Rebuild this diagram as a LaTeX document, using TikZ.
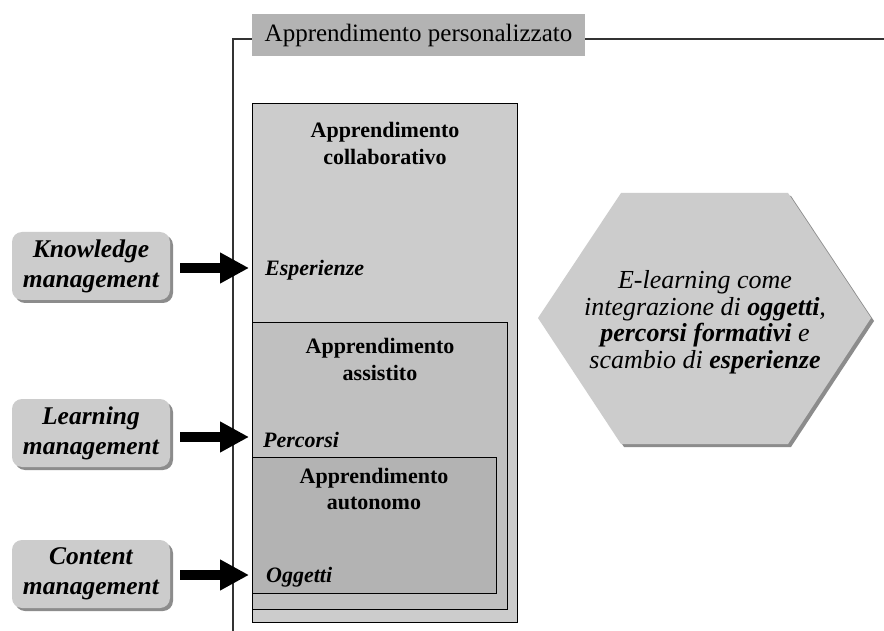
\documentclass[tikz,border=0pt]{standalone}
\usepackage{fontspec}
\setmainfont{Liberation Serif}
\usetikzlibrary{arrows.meta,shadows}
\definecolor{gA}{HTML}{CCCCCC}
\definecolor{gB}{HTML}{C0C0C0}
\definecolor{gC}{HTML}{B3B3B3}
\definecolor{shad}{HTML}{8C8C8C}
\definecolor{linec}{HTML}{333333}
\begin{document}
\begin{tikzpicture}[x=1pt,y=-1pt,
  layerbox/.style={draw=black, line width=1pt, anchor=north west, inner sep=0pt, outer sep=0pt},
  titletext/.style={font=\fontsize{22}{27}\selectfont\bfseries, align=center, inner sep=0pt},
  lbltext/.style={font=\fontsize{22}{25}\selectfont\bfseries\itshape, anchor=west, inner sep=0pt},
  mgmtbox/.style={rounded corners=10pt, fill=gA, minimum width=158pt, minimum height=68pt,
     align=center, inner sep=0pt, font=\fontsize{25.5}{30}\selectfont\bfseries\itshape,
     drop shadow={shadow xshift=3pt, shadow yshift=-3pt, fill=shad, opacity=1}},
  bigarrow/.style={line width=10pt, -{Triangle[length=29pt,width=29pt]}},
  bracket/.style={draw=linec, line width=1.3pt}
]
\useasboundingbox (0,0) rectangle (884,631);
\fill[white] (0,0) rectangle (884,631);

% bracket and top label
\node[fill=gC, minimum width=333pt, minimum height=42pt, inner sep=0pt,
      font=\fontsize{25}{28}\selectfont] (pers) at (418.5,35) {Apprendimento personalizzato};
\coordinate (btop) at (233,39);
\coordinate (bbot) at (233,631);
\coordinate (rend) at (884,39);
\draw[bracket] (bbot) -- (btop) -- (pers.west |- btop);
\draw[bracket] (pers.east |- rend) -- (rend);

% nested boxes
\node[layerbox, fill=gA, minimum width=265pt, minimum height=518pt] (collab) at (252,104) {};
\node[layerbox, fill=gB, minimum width=255pt, minimum height=287pt] (assist) at (252,322) {};
\node[layerbox, fill=gC, minimum width=244pt, minimum height=136pt] (auton) at (252,457) {};

\node[titletext] (tcollab) at (385,143) {Apprendimento\\collaborativo};
\node[titletext] (tassist) at (380,359) {Apprendimento\\assistito};
\node[titletext] (tauton) at (374,489) {Apprendimento\\autonomo};

\node[lbltext] (esp) at (265,270) {Esperienze};
\node[lbltext] (perc) at (263,440) {Percorsi};
\node[lbltext] (ogg) at (266,577) {Oggetti};

% management boxes
\node[mgmtbox] (km) at (91,266) {Knowledge\\management};
\node[mgmtbox] (lm) at (91,433) {Learning\\management};
\node[mgmtbox] (cm) at (91,574) {Content\\management};

\coordinate (t1) at (249,268);
\coordinate (t2) at (249,437);
\coordinate (t3) at (249,575);
\draw[bigarrow] (t1 -| 180,0) -- (t1);
\draw[bigarrow] (t2 -| 180,0) -- (t2);
\draw[bigarrow] (t3 -| 180,0) -- (t3);

% hexagon
\fill[shad, xshift=3pt, yshift=-3pt] (538,318) -- (621,193) -- (788,193) -- (871,318) -- (788,444) -- (621,444) -- cycle;
\fill[gA] (538,318) -- (621,193) -- (788,193) -- (871,318) -- (788,444) -- (621,444) -- cycle;
\node[align=center, inner sep=0pt, font=\fontsize{26}{26.5}\selectfont\itshape] (hex) at (705,322)
  {E-learning come\\integrazione di \textbf{oggetti},\\\textbf{percorsi formativi} e\\scambio di \textbf{esperienze}};
\end{tikzpicture}
\end{document}
